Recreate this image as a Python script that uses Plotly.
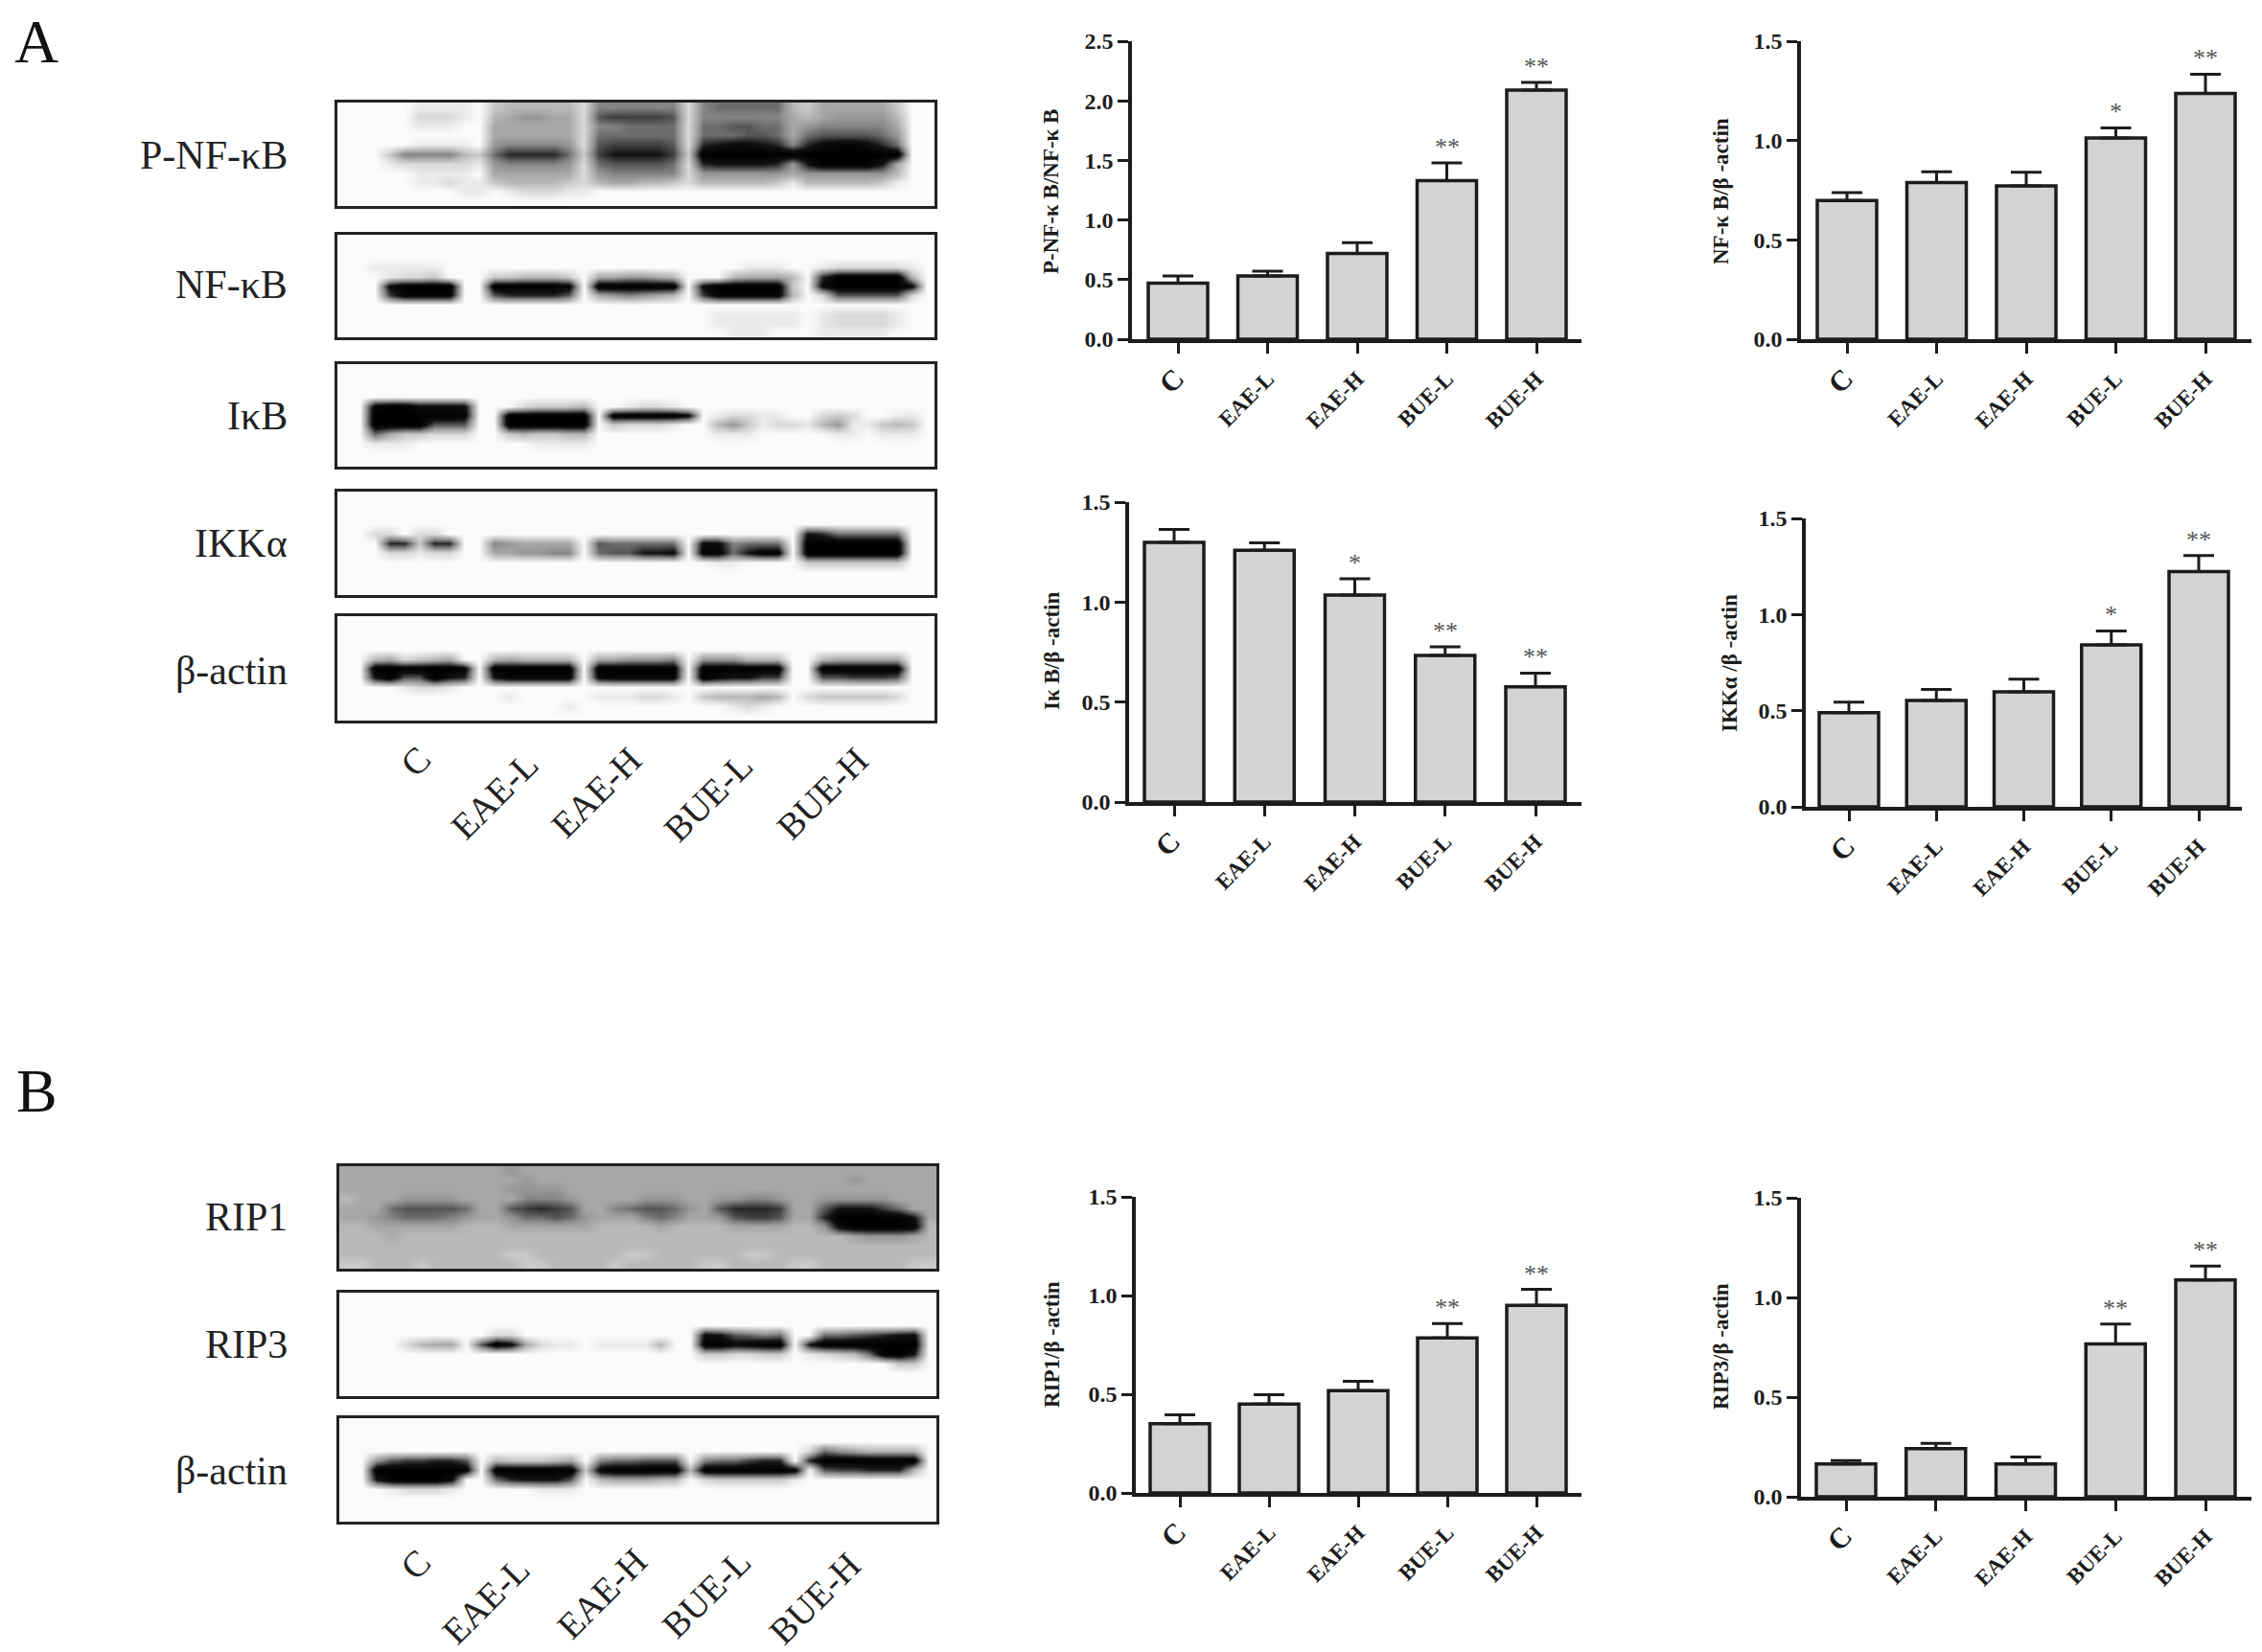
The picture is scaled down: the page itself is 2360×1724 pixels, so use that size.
import plotly.graph_objects as go

W, H = 2360, 1724
FONT = "Liberation Serif"

categories = ["C", "EAE-L", "EAE-H", "BUE-L", "BUE-H"]

# bar values, upper error ends, significance marks
p_nfkb_vals = [0.47, 0.53, 0.72, 1.33, 2.09]
p_nfkb_tops = [0.53, 0.57, 0.81, 1.48, 2.155]
p_nfkb_sig = ["", "", "", "**", "**"]

nfkb_vals = [0.698, 0.788, 0.772, 1.013, 1.237]
nfkb_tops = [0.738, 0.843, 0.84, 1.064, 1.334]
nfkb_sig = ["", "", "", "*", "**"]

ikb_vals = [1.299, 1.259, 1.035, 0.733, 0.576]
ikb_tops = [1.363, 1.296, 1.117, 0.776, 0.645]
ikb_sig = ["", "", "*", "**", "**"]

ikka_vals = [0.49, 0.553, 0.598, 0.842, 1.224]
ikka_tops = [0.545, 0.61, 0.664, 0.915, 1.307]
ikka_sig = ["", "", "", "*", "**"]

rip1_vals = [0.351, 0.45, 0.518, 0.785, 0.95]
rip1_tops = [0.396, 0.498, 0.566, 0.858, 1.031]
rip1_sig = ["", "", "", "**", "**"]

rip3_vals = [0.165, 0.241, 0.165, 0.767, 1.088]
rip3_tops = [0.181, 0.268, 0.2, 0.867, 1.157]
rip3_sig = ["", "", "", "**", "**"]

# blot band densities read by eye: one hex digit per cell, 0 = white, f = black
blot_p_nfkb = [
    "000 0011110 3444442 7777772 7888884 3555553 00",
    "000 0022210 4566552 9aaaa92 7777775 4566664 00",
    "000 0011100 5555552 7788882 8899885 6777775 00",
    "000 0000000 5555552 8888882 8889985 8999986 00",
    "000 0011110 6777762 9aaaa92 bcddcb7 bdeedb8 00",
    "000 3777743 8bbbb83 acccca3 fffffff fffffff 00",
    "000 1222221 6777762 8999982 bccccb6 cffffc5 00",
    "000 0011110 5555552 6777772 6666665 6666664 00",
    "000 0011211 3444432 4554432 4444431 4444431 00",
    "000 0000011 0122211 0000000 0000000 0000000 00",
    "000 0000000 0000000 0000000 0000000 0000000 00",
]
blot_nfkb = [
    "0000000000 0000000000 0000000000 0000000000",
    "0000000000 0000000000 0000000000 0000000000",
    "0000000000 0000000000 0000000000 0000000000",
    "0011111000 0000000000 0000000111 0012222210",
    "0001223000 3344430556 6540004555 40bfffff40",
    "000dffff00 fffffe0fff fff0dfffff 30dfffffd0",
    "000aeeee00 9bbbb90567 6540aeeeee 4029999920",
    "0000000000 0000000000 0000000000 0000000000",
    "0000000000 0000000000 0000011111 1012222100",
    "0000000000 0000000000 0000011111 1012222100",
    "0000000000 0000000000 0000001110 0011111000",
]
blot_ikb = [
    "0000000000 0000000000 0000000000 0000000000",
    "0000000000 0000000000 0000000000 0000000000",
    "0000000000 0000000000 0000000000 0000000000",
    "0000000000 0000000000 0000000000 0000000000",
    "00effdddd0 0023334001 2210000000 0000000000",
    "00ffffffe0 0ffffff0ff fffd012211 0023200110",
    "00ffff9990 0ffffff032 2210046312 2146113430",
    "0085332220 0343344000 0000011100 0001101110",
    "0011100000 0001111000 0000000000 0000000000",
    "0000000000 0000000000 0000000000 0000000000",
    "0000000000 0000000000 0000000000 0000000000",
]
blot_ikka = [
    "0000000000 0000000000 0000000000 0000000000",
    "0000000000 0000000000 0000000000 0000000000",
    "0000000000 0000000000 0000000000 0000000000",
    "0000000000 0000000000 0000000000 0000000000",
    "0022022000 0000000000 0000000000 0cb8888800",
    "000bb3bb00 7655550988 8880dd7888 0fffffff00",
    "0002212200 5566770899 ccd0ee8cee 0fffffff00",
    "0000000000 0000000000 0000011000 0333333300",
    "0000000000 0000000000 0000000000 0000000000",
    "0000000000 0000000000 0000000000 0000000000",
    "0000000000 0000000000 0000000000 0000000000",
]
blot_actin_a = [
    "0000000000 0000000000 0000000000 0000000000",
    "0000000000 0000000000 0000000000 0000000000",
    "0000000000 0000000000 0000000000 0000000000",
    "0000000000 0000000000 0000000000 0000000000",
    "0045234500 4544440556 6670666444 0045555500",
    "00ffffffe0 ffffff0fff fff0ffffff 00ffffff00",
    "00cf99fcb0 ceeeee0dee eee0fdccaa 0099aaa900",
    "0000122100 0000000000 0000000000 0000000000",
    "0000000000 0100000111 2210344454 0233333200",
    "0000000000 0000010000 0000001210 0000000000",
    "0000000000 0000000000 0000000000 0000000000",
]
blot_rip1 = [
    "5555555555 5655555555 5555555555 5555555555",
    "5555555555 5565555555 5555555555 5555655555",
    "5555555555 5666655555 5555555555 5555555555",
    "4555666655 5577765555 6665566776 5566666555",
    "5558999985 59aba95578 998659bbba 559ccca855",
    "5567888765 5688986555 7875569aa9 55bfffffc5",
    "4455555544 4555555444 4544445555 446dffffe4",
    "4445444444 4444444444 4444444444 4444566654",
    "4444444444 4444444444 4444444444 4444444444",
    "4444444444 4334444443 3444444334 4444444444",
    "3344434444 4433444434 4444334444 3344444433",
]
blot_rip3 = [
    "0000000000 0000000000 0000000000 0000000000",
    "0000000000 0000000000 0000000000 0000000000",
    "0000000000 0000000000 0000000000 0000000000",
    "0000000000 0000000000 0000000000 0000000000",
    "0000000000 2200000000 0000dc9878 00889abcd0",
    "0000245509 fd52110111 1400ffdeff 0cfffffff0",
    "0000000000 0000000000 0000332233 012348ffc0",
    "0000000000 0000000000 0000000000 0000000330",
    "0000000000 0000000000 0000000000 0000000000",
    "0000000000 0000000000 0000000000 0000000000",
    "0000000000 0000000000 0000000000 0000000000",
]
blot_actin_b = [
    "0000000000 0000000000 0000000000 0000000000",
    "0000000000 0000000000 0000000000 0000000000",
    "0000000000 0000000000 0000000000 0000000000",
    "0000000000 0000000000 0000000000 0286544440",
    "0069aabb90 4333450788 9990788abb 0bfffffff0",
    "00ffffffe0 ffffff3eff fff4ffffff e09aabbb40",
    "00cffffd00 8bccc90455 5440233333 1000000000",
    "0001222100 0001110000 0000000000 0000000000",
    "0000000000 0000000000 0000000000 0000000000",
    "0000000000 0000000000 0000000000 0000000000",
    "0000000000 0000000000 0000000000 0000000000",
]

blot_names = ["P-NF-κB", "NF-κB", "IκB", "IKKα", "β-actin", "RIP1", "RIP3", "β-actin"]
blot_data = [blot_p_nfkb, blot_nfkb, blot_ikb, blot_ikka, blot_actin_a, blot_rip1, blot_rip3, blot_actin_b]

y_titles = ["P-NF-κ B/NF-κ B", "NF-κ B/β -actin", "Iκ B/β -actin", "IKKα /β -actin", "RIP1/β -actin", "RIP3/β -actin"]
y_maxima = [2.5, 1.5, 1.5, 1.5, 1.5, 1.5]
series_vals = [p_nfkb_vals, nfkb_vals, ikb_vals, ikka_vals, rip1_vals, rip3_vals]
series_tops = [p_nfkb_tops, nfkb_tops, ikb_tops, ikka_tops, rip1_tops, rip3_tops]
series_sig = [p_nfkb_sig, nfkb_sig, ikb_sig, ikka_sig, rip1_sig, rip3_sig]

# layout, pixels: axis x, right end, y top, y bottom, first/last bar centre, title x/y
panel_boxes = [
    (1181, 1650, 43, 354, 1229, 1603, 1096, 200),
    (1879, 2349, 43, 354, 1927, 2301, 1795, 200),
    (1178, 1650, 524, 837, 1225, 1602, 1097, 680),
    (1884, 2339, 541, 842, 1929, 2294, 1804, 692),
    (1185, 1650, 1249, 1558, 1231, 1603, 1097, 1403),
    (1879, 2349, 1250, 1562, 1926, 2301, 1795, 1405),
]
blot_boxes = [
    (352, 975, 107, 215), (352, 975, 245, 352), (352, 975, 380, 487),
    (352, 975, 513, 621), (352, 975, 643, 752),
    (354, 977, 1217, 1324), (354, 977, 1349, 1457), (354, 977, 1480, 1588),
]
blot_label_y = [162, 297, 434, 567, 700, 1270, 1403, 1535]
lane_label_xy = [
    [(433, 795), (516, 830), (622, 827), (739, 832), (858, 828)],
    [(433, 1633), (507, 1670), (628, 1663), (737, 1663), (850, 1668)],
]
panel_letters = [("A", 38, 44), ("B", 38, 1138)]


def xfrac(px):
    return px / W


def yfrac(px):
    return 1 - px / H


INK = "#1c1c1c"
layout = dict(
    width=W, height=H, autosize=False, margin=dict(l=0, r=0, t=0, b=0, pad=0),
    paper_bgcolor="white", plot_bgcolor="white", showlegend=False, barmode="overlay",
    font=dict(family=FONT, color=INK),
)
fig = go.Figure()
annotations = []
axis_no = 0


def new_axes():
    global axis_no
    axis_no += 1
    suffix = "" if axis_no == 1 else str(axis_no)
    return f"x{suffix}", f"y{suffix}", f"xaxis{suffix}", f"yaxis{suffix}"


# western blots
for rows, box, name, ly in zip(blot_data, blot_boxes, blot_names, blot_label_y):
    xa, ya, xk, yk = new_axes()
    z = [[int(c, 16) for c in r.replace(" ", "")] for r in rows]
    assert all(len(r) == 40 for r in z), name
    fig.add_trace(go.Heatmap(
        z=z, xaxis=xa, yaxis=ya, zmin=0, zmax=15, zsmooth="best", showscale=False, hoverinfo="skip",
        colorscale=[[0, "#fbfbfb"], [0.45, "#8a8a8a"], [0.8, "#111111"], [1, "#000000"]],
    ))
    x0, x1, y0, y1 = box
    layout[xk] = dict(domain=[xfrac(x0), xfrac(x1)], anchor=ya, range=[-0.5, 39.5], showticklabels=False, automargin=False,
                      ticks="", showgrid=False, zeroline=False, showline=True, mirror=True, linewidth=3, linecolor="#222222")
    layout[yk] = dict(domain=[yfrac(y1), yfrac(y0)], anchor=xa, range=[len(z) - 0.5, -0.5], showticklabels=False, automargin=False,
                      ticks="", showgrid=False, zeroline=False, showline=True, mirror=True, linewidth=3, linecolor="#222222")
    annotations.append(dict(text=name, xref="paper", yref="paper", x=xfrac(302), y=yfrac(ly), xanchor="right",
                            yanchor="middle", showarrow=False, font=dict(size=42, family=FONT, color="#222222")))

# lane labels below the blots
for group in lane_label_xy:
    for cat, (lx, ly) in zip(categories, group):
        annotations.append(dict(text=cat, xref="paper", yref="paper", x=xfrac(lx), y=yfrac(ly), xanchor="center",
                                yanchor="middle", textangle=-45, showarrow=False,
                                font=dict(size=38, family=FONT, color="#222222")))

# bar panels
for vals, tops, sig, title, ymax, box in zip(series_vals, series_tops, series_sig, y_titles, y_maxima, panel_boxes):
    xa, ya, xk, yk = new_axes()
    x0, x1, y0, y1, c0, c4, tx, ty = box
    step = (c4 - c0) / 4
    errs = [t - v for t, v in zip(tops, vals)]
    fig.add_trace(go.Bar(
        x=list(range(5)), y=vals, xaxis=xa, yaxis=ya, width=62 / step, hoverinfo="skip",
        marker=dict(color="#d3d3d3", line=dict(color=INK, width=3.5)),
        error_y=dict(type="data", symmetric=False, array=errs, arrayminus=[0] * 5, color=INK, thickness=3, width=16),
    ))
    layout[xk] = dict(domain=[xfrac(x0), xfrac(x1)], anchor=ya, automargin=False,
                      range=[(x0 - c0) / step, (x1 - c0) / step],
                      tickvals=list(range(5)),
                      ticktext=[f'<span style="font-size:30px">{c}</span>' if len(c) == 1 else c for c in categories],
                      showline=True, linecolor=INK, linewidth=3.5, ticks="outside", ticklen=11, tickwidth=3, tickcolor=INK,
                      tickangle=-45, ticklabelstandoff=4, showgrid=False, zeroline=False,
                      tickfont=dict(size=23, family=FONT, color=INK, weight="bold"))
    layout[yk] = dict(domain=[yfrac(y1), yfrac(y0)], anchor=xa, range=[0, ymax], automargin=False,
                      tickvals=[i * 0.5 for i in range(int(ymax * 2) + 1)],
                      ticktext=[f"{i * 0.5:.1f}" for i in range(int(ymax * 2) + 1)],
                      showline=True, linecolor=INK, linewidth=3.5, ticks="outside", ticklen=11, tickwidth=3, tickcolor=INK,
                      showgrid=False, zeroline=False,
                      tickfont=dict(size=24, family=FONT, color=INK, weight="bold"))
    annotations.append(dict(text=f"<b>{title}</b>", xref="paper", yref="paper", x=xfrac(tx), y=yfrac(ty), xanchor="center",
                            yanchor="middle", textangle=-90, showarrow=False, font=dict(size=23, family=FONT, color=INK)))
    for i, (top, mark) in enumerate(zip(tops, sig)):
        if mark:
            annotations.append(dict(text=mark, xref=xa, yref=ya, x=i, y=top, xanchor="center", yanchor="bottom",
                                    yshift=0, showarrow=False, font=dict(size=26, family=FONT, color="#555555")))

for letter, lx, ly in panel_letters:
    annotations.append(dict(text=letter, xref="paper", yref="paper", x=xfrac(lx), y=yfrac(ly), xanchor="center",
                            yanchor="middle", showarrow=False, font=dict(size=64, family=FONT, color="#111111")))

layout["annotations"] = annotations
fig.update_layout(**layout)
fig.write_html("out.html", config={"displayModeBar": False},
               post_script="document.body.style.margin='0';document.body.style.overflow='hidden';")
